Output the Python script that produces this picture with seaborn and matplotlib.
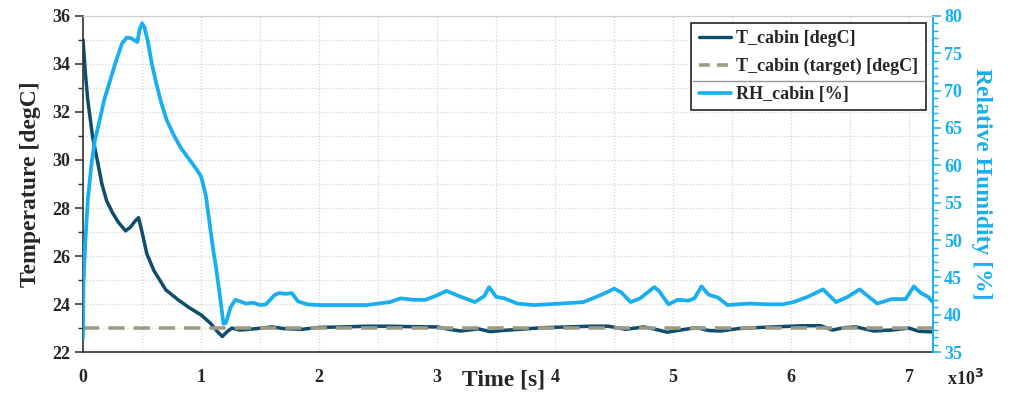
import numpy as np
import pandas as pd
import matplotlib
matplotlib.use("Agg")
import matplotlib.pyplot as plt
from matplotlib.lines import Line2D
from matplotlib.ticker import MultipleLocator
import seaborn as sns

# ---------------- data (time in x10^3 s) ----------------
t_time = [0, 0.02, 0.04, 0.08, 0.12, 0.16, 0.2, 0.25, 0.3, 0.36, 0.4, 0.44, 0.47, 0.5,
          0.54, 0.6, 0.65, 0.7, 0.8, 0.9, 1.0, 1.08, 1.14, 1.18, 1.22, 1.26, 1.33, 1.45,
          1.6, 1.7, 1.85, 2.0, 2.2, 2.4, 2.6, 2.8, 3.0, 3.1, 3.2, 3.35, 3.45, 3.55, 3.7,
          3.9, 4.1, 4.3, 4.45, 4.6, 4.75, 4.85, 4.95, 5.1, 5.2, 5.3, 5.4, 5.55, 5.7, 5.9,
          6.1, 6.25, 6.35, 6.45, 6.55, 6.7, 6.85, 7.0, 7.08, 7.2]
t_cabin = [35.0, 33.6, 32.5, 31.0, 30.0, 29.0, 28.3, 27.8, 27.4, 27.05, 27.2, 27.45, 27.6, 27.0,
           26.1, 25.4, 25.0, 24.6, 24.2, 23.85, 23.55, 23.2, 22.85, 22.65, 22.85, 23.0, 22.92, 22.97,
           23.05, 22.98, 22.95, 23.03, 23.05, 23.08, 23.08, 23.06, 23.05, 22.95, 22.88, 22.97, 22.85, 22.9, 22.95,
           23.02, 23.05, 23.08, 23.08, 22.95, 23.05, 22.95, 22.83, 22.95, 23.02, 22.9, 22.88, 22.98, 23.02, 23.06,
           23.1, 23.1, 22.92, 23.02, 23.05, 22.88, 22.92, 23.0, 22.87, 22.84]
t_target = [23.0, 23.0]
t_target_time = [0, 7.2]

rh_time = [0, 0.003, 0.02, 0.04, 0.07, 0.1, 0.14, 0.18, 0.23, 0.28, 0.33, 0.37, 0.41, 0.46,
           0.48, 0.5, 0.52, 0.55, 0.58, 0.62, 0.66, 0.71, 0.77, 0.83, 0.9, 0.96, 1.0, 1.04,
           1.07, 1.1, 1.13, 1.16, 1.19, 1.21, 1.25, 1.29, 1.33, 1.38, 1.44, 1.5, 1.55, 1.62,
           1.66, 1.72, 1.77, 1.82, 1.9, 2.0, 2.2, 2.4, 2.6, 2.69, 2.8, 2.9, 3.0, 3.08, 3.17,
           3.32, 3.4, 3.44, 3.5, 3.57, 3.68, 3.82, 4.05, 4.24, 4.38, 4.45, 4.5, 4.56, 4.64,
           4.72, 4.84, 4.88, 4.96, 5.04, 5.13, 5.18, 5.24, 5.3, 5.38, 5.46, 5.55, 5.65,
           5.8, 5.93, 6.02, 6.14, 6.27, 6.38, 6.48, 6.58, 6.65, 6.73, 6.85, 6.97, 7.04,
           7.1, 7.16, 7.2]
rh_cabin = [36.9, 44.0, 50.0, 55.3, 60.0, 63.3, 66.0, 68.8, 71.4, 74.0, 76.3, 77.1, 77.0, 76.5,
            78.2, 79.0, 78.5, 76.5, 73.8, 71.0, 68.5, 66.0, 64.0, 62.3, 60.8, 59.5, 58.5, 56.0,
            52.5, 49.0, 46.0, 42.5, 38.8, 38.9, 41.0, 42.0, 41.8, 41.5, 41.6, 41.3, 41.4, 42.6,
            42.9, 42.8, 42.9, 41.8, 41.4, 41.3, 41.3, 41.3, 41.7, 42.2, 42.0, 42.0, 42.6, 43.2, 42.6,
            41.7, 42.5, 43.7, 42.4, 42.2, 41.5, 41.3, 41.5, 41.7, 42.6, 43.1, 43.5, 43.0, 41.7,
            42.2, 43.7, 43.2, 41.4, 42.0, 41.9, 42.2, 43.8, 42.7, 42.3, 41.3, 41.4, 41.5,
            41.4, 41.4, 41.7, 42.4, 43.4, 41.7, 42.4, 43.4, 42.5, 41.5, 42.1, 42.1, 43.8,
            42.9, 42.4, 41.7]

x_ticks = [0, 1, 2, 3, 4, 5, 6, 7]
temp_ticks = [22, 24, 26, 28, 30, 32, 34, 36]
rh_ticks = [35, 40, 45, 50, 55, 60, 65, 70, 75, 80]

# ---------------- styling ----------------
sns.set_style("white")
plt.rcParams["font.family"] = ["Liberation Serif", "DejaVu Serif"]
plt.rcParams["font.weight"] = "bold"

C_T = "#0e4d6e"
C_TGT = "#9b9b86"
C_RH = "#18aef0"

fig = plt.figure(figsize=(10.14, 3.97), dpi=100)
ax = fig.add_axes([0.0819, 0.113, 0.838, 0.847])
ax2 = ax.twinx()

df_t = pd.DataFrame({"time": t_time, "val": t_cabin})
df_tgt = pd.DataFrame({"time": t_target_time, "val": t_target})
df_rh = pd.DataFrame({"time": rh_time, "val": rh_cabin})

sns.lineplot(data=df_tgt, x="time", y="val", ax=ax, color=C_TGT, lw=2.6,
             linestyle=(0, (4.5, 2.5)), label="T_cabin (target) [degC]", legend=False, zorder=3)
sns.lineplot(data=df_t, x="time", y="val", ax=ax, color=C_T, lw=2.5,
             label="T_cabin [degC]", legend=False, zorder=2, sort=False)
sns.lineplot(data=df_rh, x="time", y="val", ax=ax2, color=C_RH, lw=2.7,
             label="RH_cabin [%]", legend=False, sort=False)

ax.set_xlim(0, 7.2)
ax.set_ylim(22, 36)
ax2.set_ylim(35, 80)

ax.set_xticks(x_ticks)
ax.xaxis.set_minor_locator(MultipleLocator(0.5))
ax.set_yticks(temp_ticks)
ax.yaxis.set_minor_locator(MultipleLocator(1))
ax2.set_yticks(rh_ticks)
ax2.yaxis.set_minor_locator(MultipleLocator(1))

ax.grid(True, which="both", color="#d4d4d4", linestyle=(0, (1, 1.5)), lw=0.9)
ax.set_axisbelow(True)

ax.tick_params(axis="both", which="major", direction="out", length=6, width=1.1,
               color="#333333", labelsize=13, pad=3)
ax.tick_params(axis="both", which="minor", direction="out", length=3.5, width=1.0, color="#333333")
ax.tick_params(axis="x", which="major", pad=6)
ax2.tick_params(axis="y", which="major", direction="out", length=6, width=1.1,
                color=C_RH, labelcolor=C_RH, labelsize=13, pad=2)
ax2.tick_params(axis="y", which="minor", direction="out", length=3.5, width=1.0, color=C_RH)

for lab in ax.get_xticklabels() + ax.get_yticklabels() + ax2.get_yticklabels():
    lab.set_fontweight("bold")

for sp in ["left", "bottom"]:
    ax.spines[sp].set_color("#333333")
    ax.spines[sp].set_linewidth(1.2)
ax.spines["top"].set_color("#cfcfcf")
ax2.spines["top"].set_color("#cfcfcf")
ax.spines["right"].set_visible(False)
ax2.spines["left"].set_visible(False)
ax2.spines["bottom"].set_visible(False)
ax2.spines["right"].set_color(C_RH)
ax2.spines["right"].set_linewidth(1.4)

ax.set_xlabel("")
ax.set_ylabel("Temperature [degC]", fontsize=17, fontweight="bold", labelpad=8)
ax2.set_ylabel("Relative Humidity [%]", fontsize=17, fontweight="bold", color=C_RH,
               rotation=270, labelpad=22)
fig.text(0.497, 0.043, "Time [s]", fontsize=17, fontweight="bold", ha="center", va="center")
fig.text(0.952, 0.045, r"x10$^{\mathbf{3}}$", fontsize=13, fontweight="bold", ha="center", va="center")

handles = [Line2D([], [], color=C_T, lw=2.4),
           Line2D([], [], color=C_TGT, lw=2.6, linestyle=(0, (3, 2))),
           Line2D([], [], color=C_RH, lw=2.6)]
labels = ["T_cabin [degC]", "T_cabin (target) [degC]", "RH_cabin [%]"]
leg = ax2.legend(handles, labels, loc="upper right", bbox_to_anchor=(0.996, 0.99),
                 frameon=True, fancybox=False, framealpha=1, edgecolor="#222222",
                 prop={"family": "Liberation Serif", "weight": "bold", "size": 13},
                 handlelength=1.8, handletextpad=0.3, borderpad=0.4, labelspacing=0.6,
                 borderaxespad=0.2)
leg.get_frame().set_linewidth(1.2)

fig.canvas.draw()
r = fig.canvas.get_renderer()
fb = leg.get_frame().get_window_extent(r)
b1 = leg.get_texts()[1].get_window_extent(r)
b2 = leg.get_texts()[2].get_window_extent(r)
ysep = (b1.y0 + b2.y1) / 2.0
W, H = fig.get_size_inches() * fig.dpi
fig.add_artist(Line2D([(fb.x0 + 2) / W, (fb.x1 - 2) / W], [ysep / H, ysep / H],
                      color="#999999", lw=1.0, transform=fig.transFigure, zorder=10))

fig.savefig("out.png", dpi=100)
